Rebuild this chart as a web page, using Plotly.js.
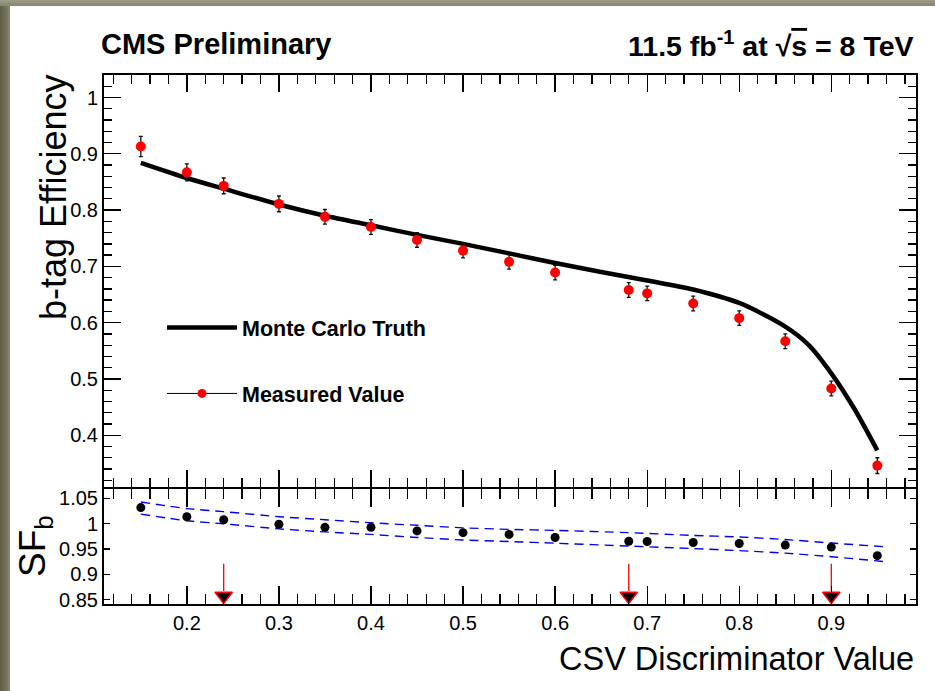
<!DOCTYPE html>
<html>
<head>
<meta charset="utf-8">
<script src="https://cdn.plot.ly/plotly-3.0.1.min.js"></script>
<style>
  html, body { margin: 0; padding: 0; background: #ffffff; }
  #wrap { position: relative; width: 935px; height: 691px; overflow: hidden; }
  #chart { position: absolute; left: 0; top: 0; width: 935px; height: 691px; }
  #edgeL { position: absolute; left: 0; top: 0; width: 10px; height: 691px;
           background: linear-gradient(to right, #5f5e49, #77765f 70%, #8a8972); }
  #edgeT { position: absolute; left: 0; top: 0; width: 935px; height: 6px;
           background: linear-gradient(to bottom, #9e9d8a, #85846f); }
</style>
</head>
<body>
<div id="wrap">
  <div id="chart"></div>
  <div id="edgeL"></div>
  <div id="edgeT"></div>
</div>
<script>
// CSV discriminator cut values
const csvCut = [0.15, 0.2, 0.24, 0.3, 0.35, 0.4, 0.45, 0.5, 0.55, 0.6, 0.68, 0.7, 0.75, 0.8, 0.85, 0.9, 0.95];
// measured b-tag efficiency and its uncertainty
const effMeasured = [0.913, 0.867, 0.843, 0.811, 0.788, 0.770, 0.747, 0.728, 0.708, 0.689, 0.658, 0.652, 0.634, 0.608, 0.567, 0.483, 0.346];
const effError    = [0.018, 0.015, 0.014, 0.014, 0.013, 0.013, 0.013, 0.013, 0.013, 0.013, 0.013, 0.013, 0.013, 0.013, 0.013, 0.013, 0.014];
// Monte Carlo truth efficiency curve
const mcCut = [0.15, 0.2, 0.24, 0.3, 0.35, 0.4, 0.45, 0.5, 0.55, 0.6, 0.65, 0.7, 0.75, 0.8, 0.85, 0.875, 0.9, 0.925, 0.95];
const mcEff = [0.884, 0.857, 0.838, 0.810, 0.790, 0.773, 0.756, 0.740, 0.723, 0.706, 0.690, 0.675, 0.659, 0.635, 0.593, 0.561, 0.510, 0.447, 0.373];
// data/MC scale factor
const sfValue = [1.032, 1.014, 1.008, 0.999, 0.993, 0.993, 0.986, 0.9825, 0.979, 0.973, 0.9656, 0.965, 0.963, 0.961, 0.958, 0.954, 0.937];
// scale factor uncertainty band (upper / lower edges)
const bandCut = [0.15, 0.2, 0.24, 0.3, 0.35, 0.4, 0.45, 0.5, 0.55, 0.6, 0.68, 0.75, 0.8, 0.85, 0.9, 0.96];
const bandHigh = [1.043, 1.030, 1.024, 1.014, 1.008, 1.002, 0.997, 0.992, 0.989, 0.987, 0.9825, 0.977, 0.974, 0.969, 0.962, 0.9545];
const bandLow  = [1.019, 1.006, 1.000, 0.990, 0.984, 0.979, 0.973, 0.968, 0.965, 0.9617, 0.956, 0.951, 0.947, 0.942, 0.935, 0.925];
// loose / medium / tight operating points
const workingPoints = [0.24, 0.68, 0.90];

// page geometry
const W = 935, H = 691;
const M = { l: 104, r: 19, t: 75, b: 87 };
const plotW = W - M.l - M.r, plotH = H - M.t - M.b;
const splitY = 487; // pixel row of the panel boundary
const upperBottom = (H - M.b - splitY) / plotH;
// the lower panel stops 2px short so both 2px frame lines coincide
const lowerTop = upperBottom - 2 / plotH;
const px = x => (x - M.l) / plotW;
const py = y => (H - M.b - y) / plotH;

const xRange = [0.11, 0.992];
const yRange = [0.308, 1.04];
const y2Range = [0.8416, 1.0687];

const FONT = 'Liberation Sans, Arial, Helvetica, sans-serif';

const traces = [
  {
    x: mcCut, y: mcEff, xaxis: 'x', yaxis: 'y',
    type: 'scatter', mode: 'lines', name: 'Monte Carlo Truth',
    line: { color: '#000000', width: 4.5, shape: 'spline', smoothing: 0.8 },
    legendgroup: 'mc', hoverinfo: 'skip'
  },
  {
    x: csvCut, y: effMeasured, xaxis: 'x', yaxis: 'y',
    type: 'scatter', mode: 'markers', name: 'Measured Value', showlegend: false,
    marker: { color: '#ff0000', size: 10 },
    error_y: { type: 'data', array: effError, visible: true, color: '#111111', thickness: 1.3, width: 2 }
  },
  {
    // legend entry for the measured points (line + marker style)
    x: [null], y: [null], xaxis: 'x', yaxis: 'y',
    type: 'scatter', mode: 'lines+markers', name: 'Measured Value',
    line: { color: '#000000', width: 1 },
    marker: { color: '#ff0000', size: 9 },
    legendgroup: 'data'
  },
  {
    x: bandCut, y: bandHigh, xaxis: 'x2', yaxis: 'y2',
    type: 'scatter', mode: 'lines', showlegend: false,
    line: { color: '#0000ff', width: 1.4, dash: '9px,6px', shape: 'spline', smoothing: 0.6 }
  },
  {
    x: bandCut, y: bandLow, xaxis: 'x2', yaxis: 'y2',
    type: 'scatter', mode: 'lines', showlegend: false,
    line: { color: '#0000ff', width: 1.4, dash: '9px,6px', shape: 'spline', smoothing: 0.6 }
  },
  {
    x: csvCut, y: sfValue, xaxis: 'x2', yaxis: 'y2',
    type: 'scatter', mode: 'markers', showlegend: false,
    marker: { color: '#000000', size: 9 }
  }
];

// operating point arrows: red stem with a black, red-outlined head
const stemTop = 0.921, headY = 0.8575;
workingPoints.forEach(wp => {
  traces.push({
    x: [wp, wp], y: [stemTop, headY + 0.01], xaxis: 'x2', yaxis: 'y2',
    type: 'scatter', mode: 'lines', showlegend: false, hoverinfo: 'skip',
    line: { color: '#ff0000', width: 1.3 }
  });
  traces.push({
    x: [wp], y: [headY], xaxis: 'x2', yaxis: 'y2',
    type: 'scatter', mode: 'markers', showlegend: false, hoverinfo: 'skip', cliponaxis: false,
    marker: { symbol: 'triangle-down', size: 15, color: '#000000', line: { color: '#ff0000', width: 1.5 } }
  });
});

const axisCommon = {
  showline: true, linecolor: '#000000', linewidth: 2, mirror: 'allticks',
  ticks: 'inside', tickcolor: '#000000', tickwidth: 1.3,
  showgrid: false, zeroline: false, fixedrange: true,
  tickfont: { family: FONT, size: 20, color: '#000000' }
};

const layout = {
  width: W, height: H,
  margin: M,
  paper_bgcolor: '#ffffff', plot_bgcolor: '#ffffff',
  showlegend: true,
  legend: {
    x: px(162), y: py(307), xanchor: 'left', yanchor: 'top',
    bgcolor: 'rgba(0,0,0,0)', borderwidth: 0,
    traceorder: 'grouped', tracegroupgap: 35, itemwidth: 70,
    font: { family: FONT, size: 21.5, color: '#000000', weight: 'bold' }
  },
  xaxis: Object.assign({}, axisCommon, {
    domain: [0, 1], anchor: 'y', range: xRange, dtick: 0.1, tick0: 0,
    showticklabels: false, ticklen: 17,
    minor: { dtick: 0.02, tick0: 0, ticks: 'inside', ticklen: 9, tickwidth: 1.3, tickcolor: '#000000' }
  }),
  yaxis: Object.assign({}, axisCommon, {
    domain: [upperBottom, 1], anchor: 'x', range: yRange, dtick: 0.1, tick0: 0,
    ticklen: 17,
    minor: { dtick: 0.02, tick0: 0, ticks: 'inside', ticklen: 8, tickwidth: 1.3, tickcolor: '#000000' }
  }),
  xaxis2: Object.assign({}, axisCommon, {
    domain: [0, 1], anchor: 'y2', matches: 'x', range: xRange, dtick: 0.1, tick0: 0,
    ticklen: 18,
    minor: { dtick: 0.02, tick0: 0, ticks: 'inside', ticklen: 10, tickwidth: 1.3, tickcolor: '#000000' }
  }),
  yaxis2: Object.assign({}, axisCommon, {
    domain: [0, lowerTop], anchor: 'x2', range: y2Range, dtick: 0.05, tick0: 0,
    ticklen: 6
  }),
  annotations: [
    {
      text: '<b>CMS Preliminary</b>', xref: 'paper', yref: 'paper',
      x: px(99), y: py(44), xanchor: 'left', yanchor: 'middle', showarrow: false,
      font: { family: FONT, size: 29, color: '#000000' }
    },
    {
      text: '<b>11.5 fb<sup>-1</sup> at √<span style="text-decoration:overline">s</span> = 8 TeV</b>',
      xref: 'paper', yref: 'paper',
      x: px(916), y: py(44), xanchor: 'right', yanchor: 'middle', showarrow: false,
      font: { family: FONT, size: 28.5, color: '#000000' }
    },
    {
      text: 'b-tag Efficiency', xref: 'paper', yref: 'paper', textangle: -90,
      x: px(53), y: py(198), xanchor: 'center', yanchor: 'middle', showarrow: false,
      font: { family: FONT, size: 36, color: '#000000' }
    },
    {
      text: 'SF<sub>b</sub>', xref: 'paper', yref: 'paper', textangle: -90,
      x: px(35), y: py(546), xanchor: 'center', yanchor: 'middle', showarrow: false,
      font: { family: FONT, size: 37, color: '#000000' }
    },
    {
      text: 'CSV Discriminator Value', xref: 'paper', yref: 'paper',
      x: px(916), y: py(659), xanchor: 'right', yanchor: 'middle', showarrow: false,
      font: { family: FONT, size: 32.5, color: '#000000' }
    }
  ]
};

Plotly.newPlot('chart', traces, layout, { staticPlot: true, displayModeBar: false });
</script>
</body>
</html>
